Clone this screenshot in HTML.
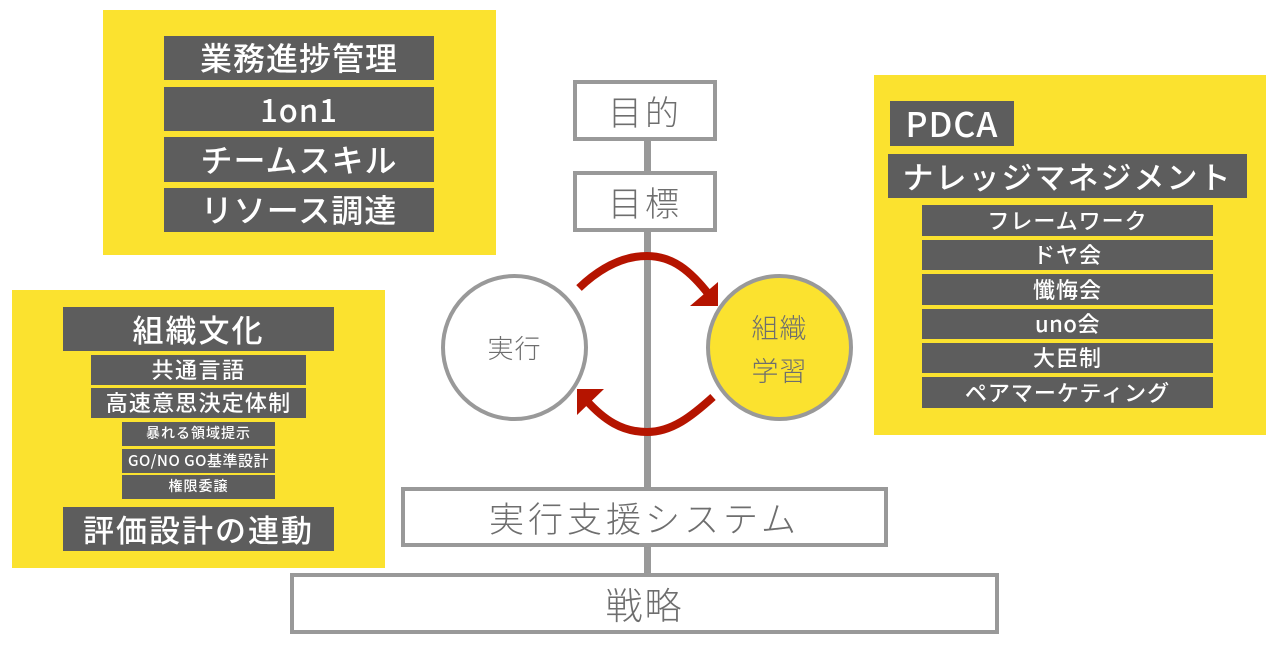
<!DOCTYPE html>
<html lang="ja">
<head>
<meta charset="utf-8">
<title>組織図</title>
<style>
html,body{margin:0;padding:0;background:#fff;}
body{width:1280px;height:670px;position:relative;overflow:hidden;font-family:"Liberation Sans","Noto Sans CJK JP",sans-serif;}
.p{position:absolute;background:#fbe22f;}
.b{position:absolute;background:#5d5d5d;color:#fff;display:flex;align-items:center;justify-content:center;white-space:nowrap;font-family:"Noto Sans CJK JP",sans-serif;font-weight:500;box-sizing:border-box;line-height:1;padding-bottom:2px;}
.o{position:absolute;background:#fff;border:4px solid #999;box-sizing:border-box;color:#6e6e6e;display:flex;align-items:center;justify-content:center;white-space:nowrap;font-family:"Noto Sans CJK JP",sans-serif;font-weight:300;line-height:1;}
.c{position:absolute;width:147px;height:147px;border-radius:50%;border:4px solid #999;box-sizing:border-box;color:#6e6e6e;font-family:"Noto Sans CJK JP",sans-serif;font-weight:300;display:flex;align-items:center;justify-content:center;text-align:center;}
</style>
</head>
<body>
<div class="p" style="left:103px;top:10px;width:393px;height:245px"></div>
<div class="b" style="left:164px;top:36px;width:270px;height:44px;font-size:32px;letter-spacing:1px">業務進捗管理</div>
<div class="b" style="left:164px;top:87px;width:270px;height:44px;font-size:31px;letter-spacing:1px">1on1</div>
<div class="b" style="left:164px;top:137px;width:270px;height:45px;font-size:32px;letter-spacing:1px">チームスキル</div>
<div class="b" style="left:164px;top:188px;width:270px;height:44px;font-size:32px;letter-spacing:1px">リソース調達</div>

<div class="p" style="left:12px;top:290px;width:373px;height:278px"></div>
<div class="b" style="left:63px;top:307px;width:271px;height:44px;font-size:31px;letter-spacing:2px">組織文化</div>
<div class="b" style="left:91px;top:355px;width:215px;height:30px;font-size:22px;letter-spacing:1.5px">共通言語</div>
<div class="b" style="left:91px;top:388px;width:215px;height:30px;font-size:22px;letter-spacing:1.2px">高速意思決定体制</div>
<div class="b" style="left:122px;top:422px;width:153px;height:24px;font-size:14px;letter-spacing:1px">暴れる領域提示</div>
<div class="b" style="left:122px;top:449px;width:153px;height:24px;font-size:15px;letter-spacing:.5px">GO/NO GO基準設計</div>
<div class="b" style="left:122px;top:475px;width:153px;height:24px;font-size:14px;letter-spacing:1px">権限委譲</div>
<div class="b" style="left:63px;top:507px;width:271px;height:44px;font-size:31px;letter-spacing:2px">評価設計の連動</div>

<div class="p" style="left:874px;top:75px;width:392px;height:360px"></div>
<div class="b" style="left:890px;top:101px;width:124px;height:45px;font-size:34px;letter-spacing:1px">PDCA</div>
<div class="b" style="left:888px;top:154px;width:359px;height:44px;font-size:31px;letter-spacing:2px">ナレッジマネジメント</div>
<div class="b" style="left:922px;top:205px;width:291px;height:31px;font-size:22px;letter-spacing:1px">フレームワーク</div>
<div class="b" style="left:922px;top:240px;width:291px;height:30px;font-size:22px;letter-spacing:1px">ドヤ会</div>
<div class="b" style="left:922px;top:274px;width:291px;height:31px;font-size:22px;letter-spacing:1px">懺悔会</div>
<div class="b" style="left:922px;top:309px;width:291px;height:30px;font-size:22px;letter-spacing:.5px">uno会</div>
<div class="b" style="left:922px;top:343px;width:291px;height:30px;font-size:22px;letter-spacing:1px">大臣制</div>
<div class="b" style="left:922px;top:377px;width:291px;height:31px;font-size:22px;letter-spacing:1px">ペアマーケティング</div>

<div style="position:absolute;left:644px;top:138px;width:7px;height:440px;background:#999"></div>
<div class="o" style="left:573px;top:80px;width:144px;height:61px;font-size:34px;letter-spacing:3px">目的</div>
<div class="o" style="left:573px;top:171px;width:144px;height:61px;font-size:34px;letter-spacing:3px">目標</div>
<div class="o" style="left:401px;top:487px;width:487px;height:60px;font-size:35px;letter-spacing:4px">実行支援システム</div>
<div class="o" style="left:290px;top:573px;width:709px;height:61px;font-size:37px;letter-spacing:2px">戦略</div>

<div class="c" style="left:441px;top:274px;background:#fff;font-size:26px;letter-spacing:1px">実行</div>
<div class="c" style="left:706px;top:274px;background:#fbe22f;font-size:27px;letter-spacing:1px;line-height:43px">組織<br>学習</div>

<svg width="1280" height="670" style="position:absolute;left:0;top:0">
<path d="M579 288 C600 268 622 256 647 256 C672 256 690 270 710 296" fill="none" stroke="#b51400" stroke-width="8"/>
<polygon points="718,282 718,306 690,306" fill="#b51400"/>
<path d="M713 397 C692 416 672 432 647 432 C622 432 604 420 586 400" fill="none" stroke="#b51400" stroke-width="8"/>
<polygon points="577,389 604,389 577,415" fill="#b51400"/>
</svg>
</body>
</html>
